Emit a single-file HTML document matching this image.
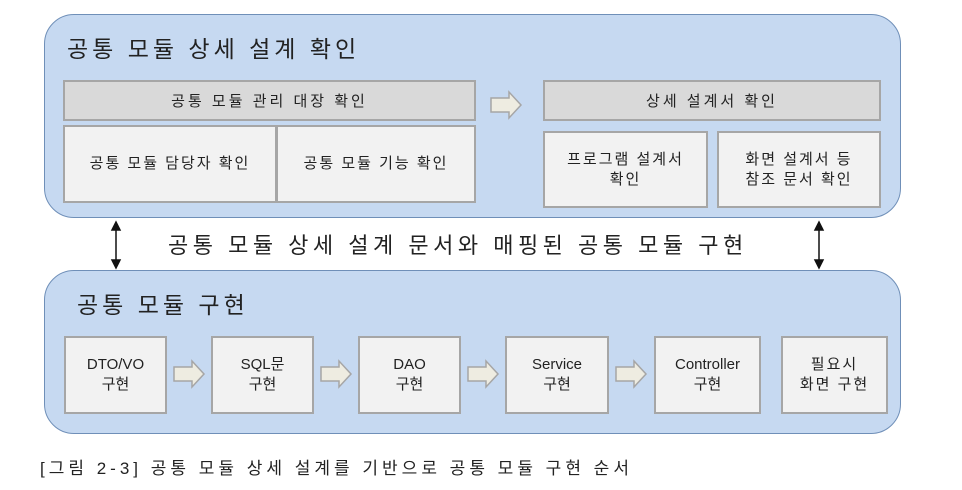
<!DOCTYPE html>
<html><head><meta charset="utf-8"><style>
body{margin:0;width:962px;height:490px;background:#fff;position:relative;overflow:hidden;font-family:"Liberation Sans","Noto Sans CJK KR",sans-serif;color:#222}
.a{position:absolute;box-sizing:border-box}
.panel{background:#c6d9f1;border:1.5px solid #6f8fb8;border-radius:30px}
.bar{background:#d9d9d9;border:2px solid #a6a6a6;display:flex;align-items:center;justify-content:center;font-size:15px;letter-spacing:3px}
.box{background:#f2f2f2;border:2px solid #a6a6a6;display:flex;align-items:center;justify-content:center;text-align:center;font-size:15px;line-height:20px;letter-spacing:2px}
.en{letter-spacing:0}
.t{position:absolute;white-space:nowrap}
svg{z-index:5}
</style></head><body>
<div class="a panel" style="left:44px;top:14px;width:857px;height:204px"></div>
<div class="t" style="left:67px;top:30px;font-size:23px;letter-spacing:4px">공통 모듈 상세 설계 확인</div>
<div class="a bar" style="left:63px;top:80px;width:413px;height:41px">공통 모듈 관리 대장 확인</div>
<div class="a box" style="left:63px;top:125px;width:214px;height:78px">공통 모듈 담당자 확인</div>
<div class="a box" style="left:276px;top:125px;width:200px;height:78px">공통 모듈 기능 확인</div>
<div class="a bar" style="left:543px;top:80px;width:338px;height:41px">상세 설계서 확인</div>
<div class="a box" style="left:543px;top:131px;width:165px;height:77px">프로그램 설계서<br>확인</div>
<div class="a box" style="left:717px;top:131px;width:164px;height:77px">화면 설계서 등<br>참조 문서 확인</div>
<div class="t" style="left:168px;top:228px;font-size:22px;letter-spacing:4.5px">공통 모듈 상세 설계 문서와 매핑된 공통 모듈 구현</div>
<div class="a panel" style="left:44px;top:270px;width:857px;height:164px"></div>
<div class="t" style="left:77px;top:286px;font-size:23px;letter-spacing:4px">공통 모듈 구현</div>
<div class="a box en" style="left:64px;top:336px;width:103px;height:78px">DTO/VO<br>구현</div>
<div class="a box en" style="left:211px;top:336px;width:103px;height:78px">SQL문<br>구현</div>
<div class="a box en" style="left:358px;top:336px;width:103px;height:78px">DAO<br>구현</div>
<div class="a box en" style="left:505px;top:336px;width:104px;height:78px">Service<br>구현</div>
<div class="a box en" style="left:654px;top:336px;width:107px;height:78px">Controller<br>구현</div>
<div class="a box" style="left:781px;top:336px;width:107px;height:78px">필요시<br>화면 구현</div>
<svg class="a" style="left:0;top:0" width="962" height="490">
<defs><g id="ar"><path d="M0,6 H18 V0 L30,13 L18,26 V20 H0 Z" fill="#eeece1" stroke="#a6a6a6" stroke-width="1.5"/></g></defs>
<use href="#ar" x="491" y="92"/>
<use href="#ar" x="174" y="361"/><use href="#ar" x="321" y="361"/><use href="#ar" x="468" y="361"/><use href="#ar" x="616" y="361"/>
<g stroke="#111" stroke-width="1.5" fill="#111">
<line x1="116" y1="229" x2="116" y2="261"/><path d="M112,230 L116,222 L120,230Z M112,260 L116,268 L120,260Z"/>
<line x1="819" y1="229" x2="819" y2="261"/><path d="M815,230 L819,222 L823,230Z M815,260 L819,268 L823,260Z"/>
</g></svg>
<div class="t" style="left:40px;top:454px;font-size:17px;letter-spacing:4px">[그림 2-3] 공통 모듈 상세 설계를 기반으로 공통 모듈 구현 순서</div>
</body></html>
